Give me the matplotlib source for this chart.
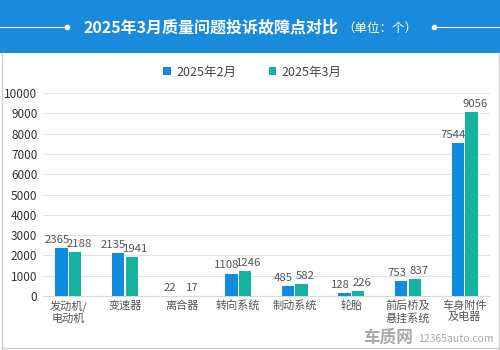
import matplotlib.pyplot as plt
import numpy as np
from matplotlib.patches import Rectangle
from matplotlib.lines import Line2D

plt.rcParams['font.family'] = ['Noto Sans CJK SC', 'DejaVu Sans']

categories = ['发动机/\n电动机', '变速器', '离合器', '转向系统', '制动系统', '轮胎', '前后桥及\n悬挂系统', '车身附件\n及电器']
feb = [2365, 2135, 22, 1108, 485, 128, 753, 7544]
mar = [2188, 1941, 17, 1246, 582, 226, 837, 9056]
series_names = ['2025年2月', '2025年3月']
yticks = [0, 1000, 2000, 3000, 4000, 5000, 6000, 7000, 8000, 9000, 10000]

c_feb = '#0f8be0'
c_mar = '#13b3a0'
header = '#1a8bdc'
txt = '#555555'

fig = plt.figure(figsize=(5, 3.5), dpi=100)

# header band
fig.patches.append(Rectangle((0, 1 - 53/350), 1, 53/350, transform=fig.transFigure,
                             facecolor=header, edgecolor='none', zorder=0))
# panel border
for xs, ys in [([0.003, 0.003], [0, 1 - 53/350]), ([0.997, 0.997], [0, 1 - 53/350]),
               ([0.003, 0.997], [0.006, 0.006])]:
    fig.add_artist(Line2D(xs, ys, transform=fig.transFigure, color='#d0d0d0', lw=1))

ty = 1 - 27/350
fig.text(0.166, ty, '2025年3月质量问题投诉故障点对比', color='white', fontsize=11.5,
         fontweight='bold', va='center', ha='left')
fig.text(0.684, ty - 0.003, '（单位：个）', color='white', fontsize=9, va='center', ha='left')
fig.add_artist(Line2D([0, 0.128], [ty, ty], transform=fig.transFigure, color='white', lw=0.8))
fig.add_artist(Line2D([0.872, 1], [ty, ty], transform=fig.transFigure, color='white', lw=0.8))
fig.add_artist(Line2D([0.134], [ty], transform=fig.transFigure, marker='o', ms=3, color='white'))
fig.add_artist(Line2D([0.868], [ty], transform=fig.transFigure, marker='o', ms=3, color='white'))

ax = fig.add_axes([0.086, 1 - 296/350, 0.894, (296 - 93)/350])
x = np.arange(len(categories))
w = 0.22
b1 = ax.bar(x - w/2 - 0.01, feb, w, color=c_feb, label=series_names[0], zorder=3)
b2 = ax.bar(x + w/2 + 0.01, mar, w, color=c_mar, label=series_names[1], zorder=3)

for bars, vals, dx in [(b1, feb, -0.08), (b2, mar, 0.07)]:
    for r, v in zip(bars, vals):
        ax.text(r.get_x() + r.get_width()/2 + dx, v + 150, str(v), ha='center', va='bottom',
                fontsize=8.2, color=txt)

ax.set_xlim(-0.45, len(categories) - 0.55)
ax.set_ylim(0, 10000)
ax.set_yticks(yticks)
ax.set_yticklabels([str(t) for t in yticks], fontsize=8.5, color='#333333')
ax.set_xticks(x)
ax.set_xticklabels(categories, fontsize=8, color=txt, linespacing=1.2)
ax.tick_params(length=0, pad=4)
ax.tick_params(axis='x', pad=3)
ax.grid(axis='y', color='#e3e3e3', lw=0.8, zorder=0)
for s in ['top', 'right', 'left']:
    ax.spines[s].set_visible(False)
ax.spines['bottom'].set_color('#d8d8d8')

fig.legend(handles=[b1, b2], labels=series_names, loc='center', bbox_to_anchor=(0.505, 1 - 72/350),
           ncol=2, frameon=False, fontsize=9, handlelength=0.6, handleheight=0.6,
           columnspacing=2.6, handletextpad=0.45, labelcolor='#444444')

# watermark
fig.text(0.826, 0.035, '车质网', fontsize=12, color='#a8a8a8', ha='right', va='center', fontweight='bold')
fig.text(0.988, 0.032, '12365auto.com', fontsize=7.5, color='#a8a8a8', ha='right', va='center')

fig.savefig('out.png', dpi=100)
